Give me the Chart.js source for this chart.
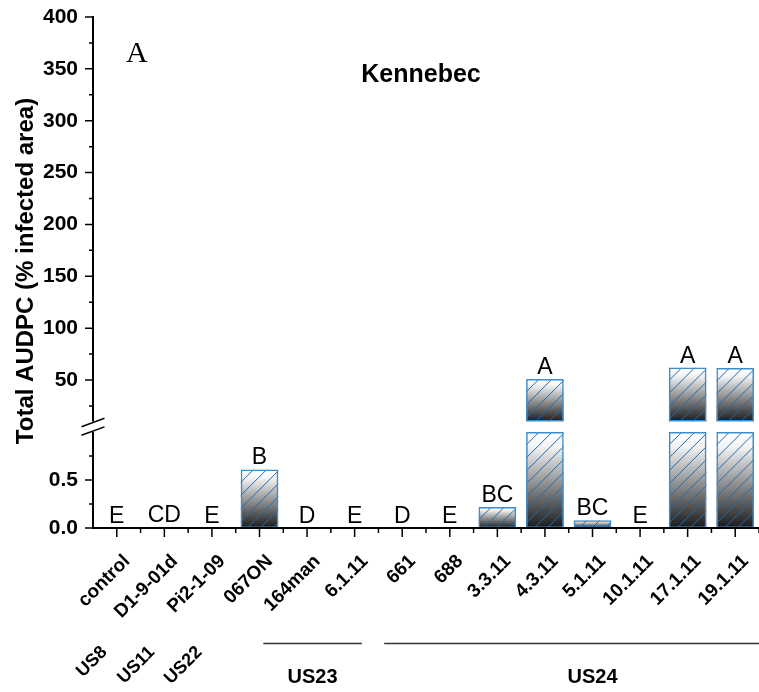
<!DOCTYPE html>
<html>
<head>
<meta charset="utf-8">
<script src="https://cdn.jsdelivr.net/npm/chart.js@4.4.1/dist/chart.umd.min.js"></script>
<style>
  html, body { margin: 0; padding: 0; background: #fff; }
  #wrap { width: 759px; height: 692px; }
</style>
</head>
<body>
<div id="wrap"><canvas id="audpcChart" width="759" height="692"></canvas></div>
<script>
// --- Data ---
const categories = ['control', 'D1-9-01d', 'Pi2-1-09', '067ON', '164man', '6.1.11', '661', '688',
                    '3.3.11', '4.3.11', '5.1.11', '10.1.11', '17.1.11', '19.1.11'];
const audpcValues = [0, 0.01, 0, 0.61, 0, 0, 0, 0, 0.22, 51, 0.08, 0, 62, 61.5];
const letterGroups = ['E', 'CD', 'E', 'B', 'D', 'E', 'D', 'E', 'BC', 'A', 'BC', 'E', 'A', 'A'];
const highTicks = [25, 50, 75, 100, 125, 150, 175, 200, 225, 250, 275, 300, 325, 350, 375, 400];
const lowTicks = [0, 0.25, 0.5, 0.75];
const lineageNames = ['US8', 'US11', 'US22', 'US23', 'US24'];
const lineageFirst = [0, 1, 2, 4, 6];
const lineageLast = [0, 1, 2, 5, 13];

// axis break: lower panel 0..1 (shown up to 1.11), upper panel 10..400
const LOW_CAP = 1.0;
const LOW_MAX = 1.11;
const HIGH_MIN = 10;
const HIGH_MAX = 400;

const FONT = '"Liberation Sans", Arial, sans-serif';

document.addEventListener('DOMContentLoaded', () => {
    const canvas = document.getElementById('audpcChart');

    // gradient + hatch fill under every bar (border is drawn by Chart.js)
    const barFillPlugin = {
        id: 'barFill',
        beforeDatasetsDraw(chart) {
            const ctx = chart.ctx;
            chart.data.datasets.forEach((ds, di) => {
                const meta = chart.getDatasetMeta(di);
                meta.data.forEach(bar => {
                    const p = bar.getProps(['x', 'y', 'base', 'width'], true);
                    if (!isFinite(p.y) || !isFinite(p.base)) return;
                    const top = Math.min(p.y, p.base);
                    const h = Math.abs(p.base - p.y);
                    if (h < 1.5) return;
                    const left = p.x - p.width / 2;
                    const g = ctx.createLinearGradient(0, top, 0, top + h);
                    g.addColorStop(0, '#ffffff');
                    g.addColorStop(0.15, '#f4f4f4');
                    g.addColorStop(1, '#1a1a1a');
                    ctx.save();
                    ctx.beginPath();
                    ctx.rect(left, top, p.width, h);
                    ctx.clip();
                    ctx.fillStyle = g;
                    ctx.fillRect(left, top, p.width, h);
                    ctx.strokeStyle = '#1f6db3';
                    ctx.lineWidth = 1;
                    ctx.beginPath();
                    for (let k = left - h; k < left + p.width + h; k += 13) {
                        ctx.moveTo(k, top + h);
                        ctx.lineTo(k + h, top);
                    }
                    ctx.stroke();
                    ctx.restore();
                });
            });
        }
    };

    // axes, ticks, break marks and all the text
    const decorPlugin = {
        id: 'decor',
        afterDraw(chart) {
            const ctx = chart.ctx;
            const xs = chart.scales.x, yh = chart.scales.yHigh, yl = chart.scales.yLow;
            const ax = chart.chartArea.left;
            const x0 = yl.getPixelForValue(0);
            ctx.save();
            ctx.strokeStyle = '#000';
            ctx.fillStyle = '#000';

            // axis lines
            ctx.lineWidth = 2;
            ctx.beginPath();
            ctx.moveTo(ax, yh.getPixelForValue(HIGH_MAX) - 1);
            ctx.lineTo(ax, yh.getPixelForValue(HIGH_MIN));
            ctx.moveTo(ax, yl.getPixelForValue(LOW_CAP));
            ctx.lineTo(ax, x0);
            ctx.moveTo(ax - 1, x0);
            ctx.lineTo(chart.width, x0);
            ctx.stroke();

            // y ticks (major outward 8px, minor 4px)
            ctx.lineWidth = 1.5;
            ctx.beginPath();
            highTicks.forEach(v => {
                const y = yh.getPixelForValue(v);
                const len = v % 50 === 0 ? 8 : 4;
                ctx.moveTo(ax - len, y); ctx.lineTo(ax, y);
            });
            lowTicks.forEach(v => {
                const y = yl.getPixelForValue(v);
                const len = (v * 100) % 50 === 0 ? 8 : 4;
                ctx.moveTo(ax - len, y); ctx.lineTo(ax, y);
            });
            // x ticks: major at centers, minor at boundaries
            categories.forEach((c, i) => {
                const x = xs.getPixelForValue(i);
                ctx.moveTo(x, x0); ctx.lineTo(x, x0 + 9);
                const xb = xs.getPixelForValue(i + 0.5);
                ctx.moveTo(xb, x0); ctx.lineTo(xb, x0 + 5);
            });
            ctx.stroke();

            // break marks
            ctx.lineWidth = 1.5;
            ctx.beginPath();
            [yh.getPixelForValue(HIGH_MIN) + 1, yl.getPixelForValue(LOW_CAP) - 1].forEach(y => {
                ctx.moveTo(ax - 11.5, y + 4.2);
                ctx.lineTo(ax + 11.5, y - 4.2);
            });
            ctx.stroke();

            // category labels, rotated 45 degrees
            ctx.font = 'bold 19px ' + FONT;
            ctx.textAlign = 'right';
            ctx.textBaseline = 'alphabetic';
            categories.forEach((c, i) => {
                ctx.save();
                ctx.translate(xs.getPixelForValue(i) + 14, x0 + 34);
                ctx.rotate(-Math.PI / 4);
                ctx.fillText(c, 0, 0);
                ctx.restore();
            });

            // lineage labels
            lineageNames.forEach((name, gi) => {
                const a = lineageFirst[gi], b = lineageLast[gi];
                if (a === b) {
                    ctx.font = 'bold 18px ' + FONT;
                    ctx.textAlign = 'right';
                    ctx.save();
                    ctx.translate(xs.getPixelForValue(a) - 9, 653);
                    ctx.rotate(-Math.PI / 4);
                    ctx.fillText(name, 0, 0);
                    ctx.restore();
                } else {
                    const last = b === categories.length - 1;
                    const from = last ? xs.getPixelForValue(a - 0.38) : xs.getPixelForValue(a - 0.92);
                    const to = last ? chart.width : xs.getPixelForValue(b + 0.15);
                    const mid = last ? xs.getPixelForValue((a + b) / 2 + 0.5) : (from + to) / 2;
                    ctx.strokeStyle = '#333';
                    ctx.lineWidth = 1.5;
                    ctx.beginPath();
                    ctx.moveTo(from, 643.5); ctx.lineTo(to, 643.5);
                    ctx.stroke();
                    ctx.font = 'bold 20px ' + FONT;
                    ctx.textAlign = 'center';
                    ctx.fillText(name, mid, 683);
                }
            });

            // significance letters above bars
            ctx.font = '23px ' + FONT;
            ctx.textAlign = 'center';
            audpcValues.forEach((v, i) => {
                const yTop = v > HIGH_MIN ? yh.getPixelForValue(v) : yl.getPixelForValue(Math.min(v, LOW_CAP));
                ctx.fillText(letterGroups[i], xs.getPixelForValue(i), yTop - 5);
            });

            // y-axis title
            ctx.save();
            ctx.translate(33, 271);
            ctx.rotate(-Math.PI / 2);
            ctx.font = 'bold 24px ' + FONT;
            ctx.textAlign = 'center';
            ctx.fillText('Total AUDPC (% infected area)', 0, 0);
            ctx.restore();

            // panel letter and cultivar
            ctx.font = '30px "Liberation Serif", "Times New Roman", serif';
            ctx.textAlign = 'left';
            ctx.fillText('A', 126, 62);
            ctx.font = 'bold 25px ' + FONT;
            ctx.textAlign = 'center';
            ctx.fillText('Kennebec', 421, 82);
            ctx.restore();
        }
    };

    const barStyle = {
        backgroundColor: 'rgba(0,0,0,0)',
        borderColor: '#3b8dcb',
        borderWidth: 1.5,
        borderSkipped: false,
        barPercentage: 0.79,
        categoryPercentage: 1.0,
        grouped: false
    };

    const yTickFont = { family: FONT, size: 21, weight: 'bold' };

    // fixed axis box sizes, no extra label overflow padding
    const fitY = s => { s.width = 93; s.paddingTop = 0; s.paddingBottom = 0; };

    new Chart(canvas, {
        type: 'bar',
        data: {
            labels: categories,
            datasets: [
                Object.assign({
                    label: 'AUDPC (upper)',
                    data: audpcValues.map(v => v > HIGH_MIN ? [HIGH_MIN, v] : null),
                    yAxisID: 'yHigh'
                }, barStyle),
                Object.assign({
                    label: 'AUDPC (lower)',
                    data: audpcValues.map(v => Math.min(v, LOW_CAP)),
                    yAxisID: 'yLow'
                }, barStyle)
            ]
        },
        options: {
            responsive: false,
            animation: false,
            layout: { padding: { top: 17, left: 0, right: -3, bottom: 0 } },
            plugins: { legend: { display: false }, tooltip: { enabled: false } },
            scales: {
                x: {
                    type: 'category',
                    offset: true,
                    grid: { display: false, drawTicks: false },
                    border: { display: false },
                    ticks: { display: false },
                    afterFit: s => { s.height = 164; s.paddingLeft = 0; s.paddingRight = 0; }
                },
                // stacked scales are laid out bottom-first, so the lower panel comes first
                yLow: {
                    type: 'linear',
                    position: 'left',
                    stack: 'yaxis',
                    stackWeight: 106.5,
                    min: 0,
                    max: LOW_MAX,
                    grid: { display: false, drawTicks: false },
                    border: { display: false },
                    ticks: {
                        padding: 15,
                        color: '#000',
                        autoSkip: false,
                        font: yTickFont,
                        callback: v => ((v * 100) % 50 === 0 ? v.toFixed(1) : '')
                    },
                    afterBuildTicks: s => { s.ticks = lowTicks.map(v => ({ value: v })); },
                    afterFit: fitY
                },
                yHigh: {
                    type: 'linear',
                    position: 'left',
                    stack: 'yaxis',
                    stackWeight: 404.5,
                    min: HIGH_MIN,
                    max: HIGH_MAX,
                    grid: { display: false, drawTicks: false },
                    border: { display: false },
                    ticks: {
                        padding: 15,
                        color: '#000',
                        autoSkip: false,
                        font: yTickFont,
                        callback: v => (v % 50 === 0 ? String(v) : '')
                    },
                    afterBuildTicks: s => { s.ticks = highTicks.map(v => ({ value: v })); },
                    afterFit: fitY
                }
            }
        },
        plugins: [barFillPlugin, decorPlugin]
    });
});
</script>
</body>
</html>
